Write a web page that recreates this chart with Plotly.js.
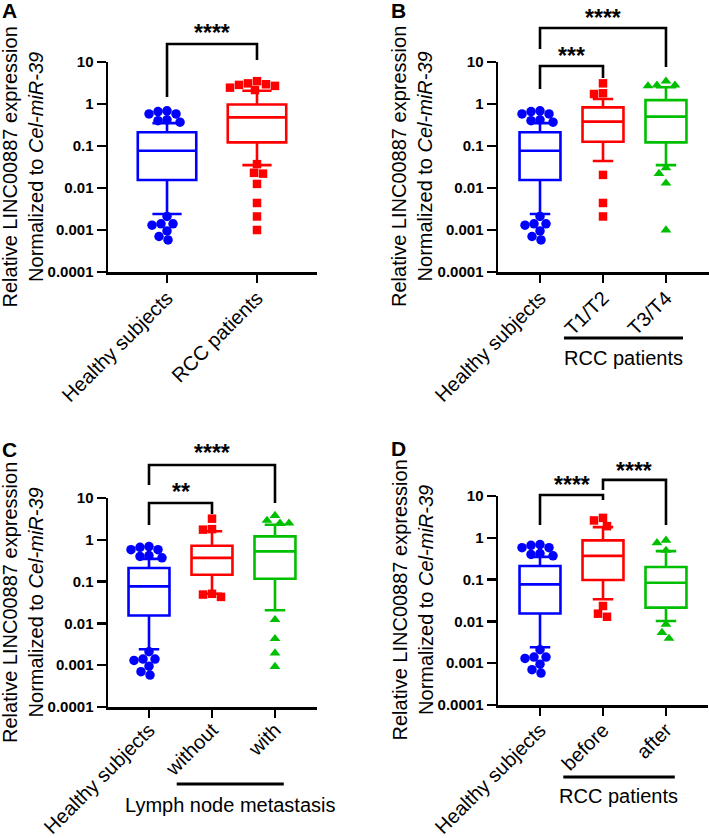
<!DOCTYPE html>
<html><head><meta charset="utf-8">
<script src="https://cdn.plot.ly/plotly-3.0.1.min.js"></script>
<style>html,body{margin:0;padding:0;background:#fff}</style>
</head><body><div id="chart" style="width:709px;height:838px"></div>
<script>
const FONT = 'Liberation Sans, Arial, sans-serif';
const BLUE = '#0000FF', RED = '#FF0000', GREEN = '#00BF00';

// y tick labels (log axis)
const yTickVals = [0.0001, 0.001, 0.01, 0.1, 1, 10];
const yTickText = ['0.0001', '0.001', '0.01', '0.1', '1', '10'];

// categories per panel
const catsA = ['Healthy subjects', 'RCC patients'];
const catsB = ['Healthy subjects', 'T1/T2', 'T3/T4'];
const catsC = ['Healthy subjects', 'without', 'with'];
const catsD = ['Healthy subjects', 'before', 'after'];

// box statistics: [lower whisker, q1, median, q3, upper whisker]
const healthyStats = [0.0024, 0.0155, 0.077, 0.212, 0.35];
const rccStats     = [0.035, 0.122, 0.48, 0.97, 2.07];
const t12Stats     = [0.044, 0.126, 0.38, 0.83, 1.32];
const t34Stats     = [0.035, 0.122, 0.50, 1.24, 2.5];
const withoutStats = [0.051, 0.146, 0.37, 0.72, 1.6];
const withStats    = [0.0206, 0.117, 0.53, 1.21, 2.3];
const beforeStats  = [0.034, 0.098, 0.37, 0.87, 1.8];
const afterStats   = [0.0102, 0.0213, 0.084, 0.20, 0.48];

// individual points outside whiskers
const healthyPoints = [0.69, 0.58, 0.40, 0.42, 0.58, 0.37, 0.66, 0.0021, 0.0014, 0.0013, 0.0014, 0.00095, 0.0007, 0.00058];
const rccPoints     = [3.5, 2.85, 2.7, 2.45, 2.95, 2.15, 3.1, 0.037, 0.022, 0.023, 0.0125, 0.0044, 0.0021, 0.001];
const t12Points     = [1.8, 1.73, 3.1, 0.0205, 0.0044, 0.0021];
const t34Points     = [2.7, 2.8, 3.5, 2.8, 0.03, 0.022, 0.013, 0.001];
const withoutPoints = [1.8, 1.75, 3.2, 0.051, 0.049, 0.043];
const withPoints    = [2.5, 2.5, 3.8, 2.9, 0.0123, 0.0043, 0.00195, 0.00093];
const beforePoints  = [2.6, 1.9, 3.0, 0.0234, 0.0153, 0.0129];
const afterPoints   = [0.76, 0.5, 0.87, 0.0054, 0.0085, 0.0039];

// significance labels
const sigA = ['****'];
const sigB = ['***', '****'];
const sigC = ['**', '****'];
const sigD = ['****', '****'];

const groupLabelB = 'RCC patients';
const groupLabelC = 'Lymph node metastasis';
const groupLabelD = 'RCC patients';
const yTitle = 'Relative LINC00887 expression<br>Normalized to <i>Cel-miR-39</i>';

const W = 709, H = 838;
const PX_PER_DECADE = 42;

// simple beeswarm: spread overlapping points sideways around the category centre
function swarmX(values, idx, pxPerCat, diam) {
  const placed = [];
  const xs = new Array(values.length);
  const order = values.map((v, i) => i).sort((a, b) => values[b] - values[a]);
  for (const i of order) {
    const py = Math.log10(values[i]) * PX_PER_DECADE;
    let best = 0;
    for (let s = 0; s < 400; s++) {
      const dx = (s % 2 === 0 ? 1 : -1) * Math.ceil(s / 2);
      if (placed.every(p => Math.hypot(p[0] - dx, p[1] - py) >= diam)) { best = dx; break; }
    }
    placed.push([best, py]);
    xs[i] = idx + best / pxPerCat;
  }
  return xs;
}

function suffix(n) { return n === 1 ? '' : String(n); }

function boxTrace(idx, stats, color, n) {
  return {
    type: 'box', x: [idx],
    lowerfence: [stats[0]], q1: [stats[1]], median: [stats[2]], q3: [stats[3]], upperfence: [stats[4]],
    boxpoints: false, width: 0.65, whiskerwidth: 0.5,
    line: {color: color, width: 2.6}, fillcolor: 'rgba(0,0,0,0)',
    xaxis: 'x' + suffix(n), yaxis: 'y' + suffix(n), showlegend: false, hoverinfo: 'skip'
  };
}
function pointTrace(idx, pts, color, symbol, n, pxPerCat) {
  const size = symbol === 'square' ? 8.5 : 9.5;
  return {
    type: 'scatter', mode: 'markers', x: swarmX(pts, idx, pxPerCat, 9), y: pts,
    marker: {color: color, symbol: symbol, size: size, line: {width: 0}},
    xaxis: 'x' + suffix(n), yaxis: 'y' + suffix(n), showlegend: false, hoverinfo: 'skip', cliponaxis: false
  };
}

const groups = [
  // panel, index, stats, points, colour, symbol, px per category
  [1, 0, healthyStats, healthyPoints, BLUE, 'circle', 90],
  [1, 1, rccStats, rccPoints, RED, 'square', 90],
  [2, 0, healthyStats, healthyPoints, BLUE, 'circle', 63],
  [2, 1, t12Stats, t12Points, RED, 'square', 63],
  [2, 2, t34Stats, t34Points, GREEN, 'triangle-up', 63],
  [3, 0, healthyStats, healthyPoints, BLUE, 'circle', 63],
  [3, 1, withoutStats, withoutPoints, RED, 'square', 63],
  [3, 2, withStats, withPoints, GREEN, 'triangle-up', 63],
  [4, 0, healthyStats, healthyPoints, BLUE, 'circle', 63],
  [4, 1, beforeStats, beforePoints, RED, 'square', 63],
  [4, 2, afterStats, afterPoints, GREEN, 'triangle-up', 63]
];
const data = [];
groups.forEach(g => data.push(boxTrace(g[1], g[2], g[4], g[0])));
groups.forEach(g => data.push(pointTrace(g[1], g[3], g[4], g[5], g[0], g[6])));

function xdom(l, r) { return [l / W, r / W]; }
function ydom(bottom, top) { return [(H - bottom) / H, (H - top) / H]; }

function xAx(dom, cats, range, anchor, standoff) {
  return {
    domain: dom, anchor: anchor, type: 'linear',
    tickmode: 'array', tickvals: cats.map((c, i) => i), ticktext: cats,
    range: range, showline: true, linewidth: 2.5, linecolor: '#000', showgrid: false, zeroline: false,
    ticks: 'outside', ticklen: 8, tickwidth: 2.5, tickcolor: '#000', tickangle: -45, ticklabelstandoff: standoff,
    tickfont: {family: FONT, size: 20, color: '#000'}, automargin: false, fixedrange: true
  };
}
function yAx(dom, anchor) {
  return {
    domain: dom, anchor: anchor, type: 'log', range: [-4, 1],
    tickmode: 'array', tickvals: yTickVals, ticktext: yTickText,
    showline: true, linewidth: 2.5, linecolor: '#000', showgrid: false, zeroline: false,
    ticks: 'outside', ticklen: 9, tickwidth: 2.5, tickcolor: '#000',
    tickfont: {family: FONT, size: 15, color: '#000', weight: 'bold'}, automargin: false, fixedrange: true
  };
}

const lineStyle = {color: '#000', width: 2.6};
function bracket(xr, yr, x0, x1, yl, ytop, yr2) {
  return {type: 'path', xref: xr, yref: yr + ' domain',
    path: `M ${x0} ${yl} L ${x0} ${ytop} L ${x1} ${ytop} L ${x1} ${yr2}`, line: lineStyle};
}
function hline(xr, yr, x0, x1, y) {
  return {type: 'line', xref: xr, yref: yr + ' domain', x0: x0, x1: x1, y0: y, y1: y, line: {color: '#000', width: 3}};
}
function star(xr, yr, x, y, t) {
  return {xref: xr, yref: yr + ' domain', x: x, y: y, text: t, showarrow: false,
    xanchor: 'center', yanchor: 'middle', font: {family: FONT, size: 23, color: '#000', weight: 'bold'}};
}
function label(xr, yr, x, y, t) {
  return {xref: xr, yref: yr + ' domain', x: x, y: y, text: t, showarrow: false,
    xanchor: 'center', yanchor: 'middle', font: {family: FONT, size: 20, color: '#000'}};
}
function ytitle(xpx, yr) {
  return {xref: 'paper', yref: yr + ' domain', x: xpx / W, y: 0.5, text: yTitle, showarrow: false,
    textangle: -90, xanchor: 'center', yanchor: 'middle', font: {family: FONT, size: 20, color: '#000'}};
}
function letter(xpx, ypx, t) {
  return {xref: 'paper', yref: 'paper', x: xpx / W, y: (H - ypx) / H, text: t, showarrow: false,
    xanchor: 'center', yanchor: 'middle', font: {family: FONT, size: 21, color: '#000', weight: 'bold'}};
}

const layout = {
  width: W, height: H, margin: {l: 0, r: 0, t: 0, b: 0},
  paper_bgcolor: '#fff', plot_bgcolor: 'rgba(0,0,0,0)', showlegend: false, boxmode: 'overlay',
  xaxis:  xAx(xdom(108, 317), catsA, [-0.656, 1.667], 'y', -4),
  yaxis:  yAx(ydom(272, 62), 'x'),
  xaxis2: xAx(xdom(498, 709), catsB, [-0.667, 2.683], 'y2', -4),
  yaxis2: yAx(ydom(272, 62), 'x2'),
  xaxis3: xAx(xdom(108, 317), catsC, [-0.651, 2.667], 'y3', -7),
  yaxis3: yAx(ydom(707, 498), 'x3'),
  xaxis4: xAx(xdom(498, 708), catsD, [-0.667, 2.667], 'y4', -5),
  yaxis4: yAx(ydom(705, 496), 'x4'),
  shapes: [
    bracket('x', 'y', 0, 1, 0.833, 1.086, 1.010),
    bracket('x2', 'y2', 0, 1, 0.871, 0.981, 0.924),
    bracket('x2', 'y2', 0, 2, 1.062, 1.162, 0.976),
    bracket('x3', 'y3', 0, 1, 0.871, 0.976, 0.923),
    bracket('x3', 'y3', 0, 2, 1.062, 1.158, 0.976),
    bracket('x4', 'y4', 0, 1, 0.861, 1.005, 0.981),
    bracket('x4', 'y4', 1, 2, 1.029, 1.077, 0.861),
    hline('x2', 'y2', 0.38, 2.27, -0.314),
    hline('x3', 'y3', 0.44, 2.14, -0.368),
    hline('x4', 'y4', 0.37, 2.14, -0.344)
  ],
  annotations: [
    star('x', 'y', 0.5, 1.136, sigA[0]),
    star('x2', 'y2', 0.5, 1.029, sigB[0]),
    star('x2', 'y2', 1.0, 1.210, sigB[1]),
    star('x3', 'y3', 0.5, 1.029, sigC[0]),
    star('x3', 'y3', 1.0, 1.215, sigC[1]),
    star('x4', 'y4', 0.5, 1.053, sigD[0]),
    star('x4', 'y4', 1.5, 1.120, sigD[1]),
    label('x2', 'y2', 1.333, -0.41, groupLabelB),
    label('x3', 'y3', 1.29, -0.469, groupLabelC),
    label('x4', 'y4', 1.25, -0.435, groupLabelD),
    ytitle(22.5, 'y'), ytitle(412, 'y2'), ytitle(22.5, 'y3'), ytitle(412, 'y4'),
    letter(9, 11, 'A'), letter(398, 11, 'B'), letter(9, 449, 'C'), letter(398, 448, 'D')
  ]
};

Plotly.newPlot('chart', data, layout, {staticPlot: true, displayModeBar: false});
</script>
</body></html>
